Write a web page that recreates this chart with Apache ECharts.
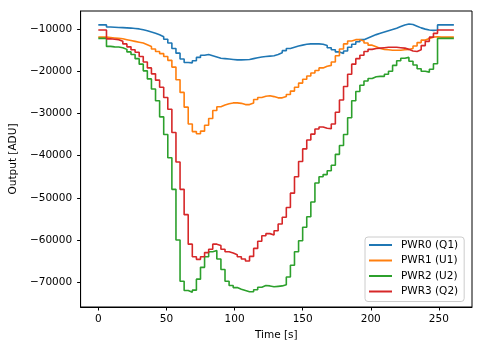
<!DOCTYPE html>
<html>
<head>
<meta charset="utf-8">
<script src="https://cdn.jsdelivr.net/npm/echarts@6/dist/echarts.min.js"></script>
<style>
html,body{margin:0;padding:0;background:#fff;}
#chart{width:483px;height:347px;}
</style>
</head>
<body>
<div id="chart"></div>
<script>
var times = [0,3,6,9,12,15,18,21,24,27,30,33,36,39,42,45,48,51,54,57,60,63,66,69,72,75,78,81,84,87,90,93,96,99,102,105,108,111,114,117,120,123,126,129,132,135,138,141,144,147,150,153,156,159,162,165,168,171,174,177,180,183,186,189,192,195,198,201,204,207,210,213,216,219,222,225,228,231,234,237,240,243,246,249,252,255,258,261];

var seriesNames = ['PWR0 (Q1)','PWR1 (U1)','PWR2 (U2)','PWR3 (Q2)'];

var pwr0 = [-9000,-9000,-9500,-9550,-9600,-9650,-9700,-9750,-9850,-9950,
-10150,-10400,-10700,-11000,-11350,-11800,-12400,-13300,-14600,-15700,
-17100,-17900,-18000,-17500,-16700,-16200,-16000,-16300,-16600,-16900,
-17000,-17100,-17200,-17300,-17300,-17250,-17200,-17000,-16800,-16600,
-16500,-16400,-16300,-16000,-15600,-15100,-14600,-14300,-14000,-13800,
-13600,-13500,-13450,-13500,-13600,-13900,-14400,-14900,-15400,-15800,
-15200,-14300,-13600,-13000,-12500,-12100,-11700,-11300,-11000,-10700,
-10400,-10100,-9800,-9400,-9000,-8800,-8900,-9300,-9700,-10000,
-10200,-10300,-10200,-9000,-9000,-9000,-9000,-9000];

var pwr1 = [-11900,-11900,-12000,-12100,-12200,-12300,-12500,-12700,-12900,-13100,
-13300,-13700,-14100,-14700,-15300,-15800,-16500,-17400,-19000,-22000,
-25000,-28500,-32500,-34300,-34800,-34200,-32800,-31200,-29300,-28400,
-28000,-27700,-27500,-27500,-27600,-27900,-27900,-27500,-26700,-26200,
-25900,-25800,-26000,-26300,-26300,-26000,-25500,-24700,-23800,-22800,
-21900,-21100,-20400,-19800,-19200,-18800,-18600,-17800,-16300,-14700,
-13500,-12800,-12500,-12500,-12800,-13300,-13800,-14200,-14600,-14800,
-14900,-15000,-15000,-15000,-14900,-14800,-14600,-14000,-13200,-12600,
-12200,-11900,-11800,-11900,-11900,-11900,-11900,-11900];

var pwr2 = [-12200,-12200,-14100,-14200,-14250,-14400,-14800,-15400,-16000,-17000,
-18300,-19900,-21800,-24200,-27000,-30800,-35000,-40500,-48000,-60000,
-69800,-72000,-72400,-71900,-69300,-66500,-64000,-62800,-62500,-64500,
-67000,-69800,-70800,-71300,-71700,-72000,-72300,-72300,-71800,-71200,
-70800,-70900,-71100,-71000,-70900,-70600,-68800,-66000,-62800,-60200,
-57000,-54500,-51000,-46500,-45000,-44500,-43600,-42300,-39700,-37600,
-35000,-31000,-27000,-24800,-23300,-22300,-21700,-21300,-21200,-21200,
-20700,-20000,-18600,-17500,-16900,-16700,-17600,-18500,-19400,-20000,
-20200,-19500,-18200,-12200,-12200,-12200,-12200,-12200];

var pwr3 = [-10200,-10200,-12300,-12400,-12500,-12900,-13500,-14200,-14900,-15500,
-16500,-17800,-19200,-20600,-22100,-23800,-26200,-29000,-34500,-41500,
-48000,-54000,-61000,-64000,-64600,-64000,-63000,-62200,-61000,-61300,
-62200,-62800,-63100,-63500,-64000,-64500,-65000,-63900,-62000,-60300,
-59000,-58500,-58800,-57800,-56200,-54600,-52300,-48900,-45000,-41400,
-38400,-36300,-34900,-33700,-33200,-33500,-33600,-32500,-29700,-26800,
-23600,-20700,-18300,-17000,-16200,-15300,-14800,-14600,-14500,-14400,
-14300,-14300,-14300,-14400,-14500,-14800,-15200,-15300,-14900,-13900,
-12900,-11900,-11000,-10200,-10200,-10200,-10200,-10200];

var xTicks = [0,50,100,150,200,250];
var yTicks = [-70000,-60000,-50000,-40000,-30000,-20000,-10000];
var colors = ['#1f77b4','#ff7f0e','#2ca02c','#d62728'];

var allSeries = [pwr0, pwr1, pwr2, pwr3];
var FONT = 'DejaVu Sans';
var FS = 10.5;

function pairs(vals){
  var out = [];
  for (var i = 0; i < times.length; i++) out.push([times[i], vals[i]]);
  return out;
}

var chart = echarts.init(document.getElementById('chart'), null, {renderer:'canvas'});
var option = {
  animation: false,
  backgroundColor: '#fff',
  grid: {left:75, top:11, width:397, height:296, show:true, borderColor:'#000', borderWidth:1, backgroundColor:'transparent'},
  legend: {
    orient:'vertical', left:365, top:237,
    data: seriesNames.map(function(n){return {name:n, icon:'rect'};}),
    itemWidth:23, itemHeight:2, itemGap:1.5,
    padding:[1,6,3,4],
    borderColor:'#cccccc', borderWidth:1, borderRadius:3,
    backgroundColor:'rgba(255,255,255,0.8)',
    textStyle:{fontFamily:FONT, fontSize:FS, color:'#000', lineHeight:14, padding:[0,0,0,4]}
  },
  xAxis: {
    type:'value', min:-13, max:274.3,
    name:'Time [s]', nameLocation:'middle', nameGap:21,
    nameTextStyle:{fontFamily:FONT, fontSize:FS, color:'#000'},
    axisLine:{show:true, onZero:false, lineStyle:{color:'#000', width:1}},
    axisTick:{show:true, customValues:xTicks, length:3.5, lineStyle:{color:'#000', width:1}},
    axisLabel:{customValues:xTicks, fontFamily:FONT, fontSize:FS, color:'#000', margin:7,
      formatter:function(v){return String(v).replace('-', '\u2212');}},
    splitLine:{show:false}
  },
  yAxis: {
    type:'value', min:-75900, max:-5700,
    name:'Output [ADU]', nameLocation:'middle', nameGap:56, nameRotate:90,
    nameTextStyle:{fontFamily:FONT, fontSize:FS, color:'#000'},
    axisLine:{show:true, onZero:false, lineStyle:{color:'#000', width:1}},
    axisTick:{show:true, customValues:yTicks, length:3.5, lineStyle:{color:'#000', width:1}},
    axisLabel:{customValues:yTicks, fontFamily:FONT, fontSize:FS, color:'#000', margin:8.5,
      formatter:function(v){return String(v).replace('-', '\u2212');}},
    splitLine:{show:false}
  },
  series: allSeries.map(function(vals, i){
    return {
      name: seriesNames[i], type:'line', step:'end', showSymbol:false, symbol:'none',
      data: pairs(vals),
      lineStyle:{color:colors[i], width:1.6},
      itemStyle:{color:colors[i]},
      clip:true
    };
  })
};
chart.setOption(option);
</script>
</body>
</html>
